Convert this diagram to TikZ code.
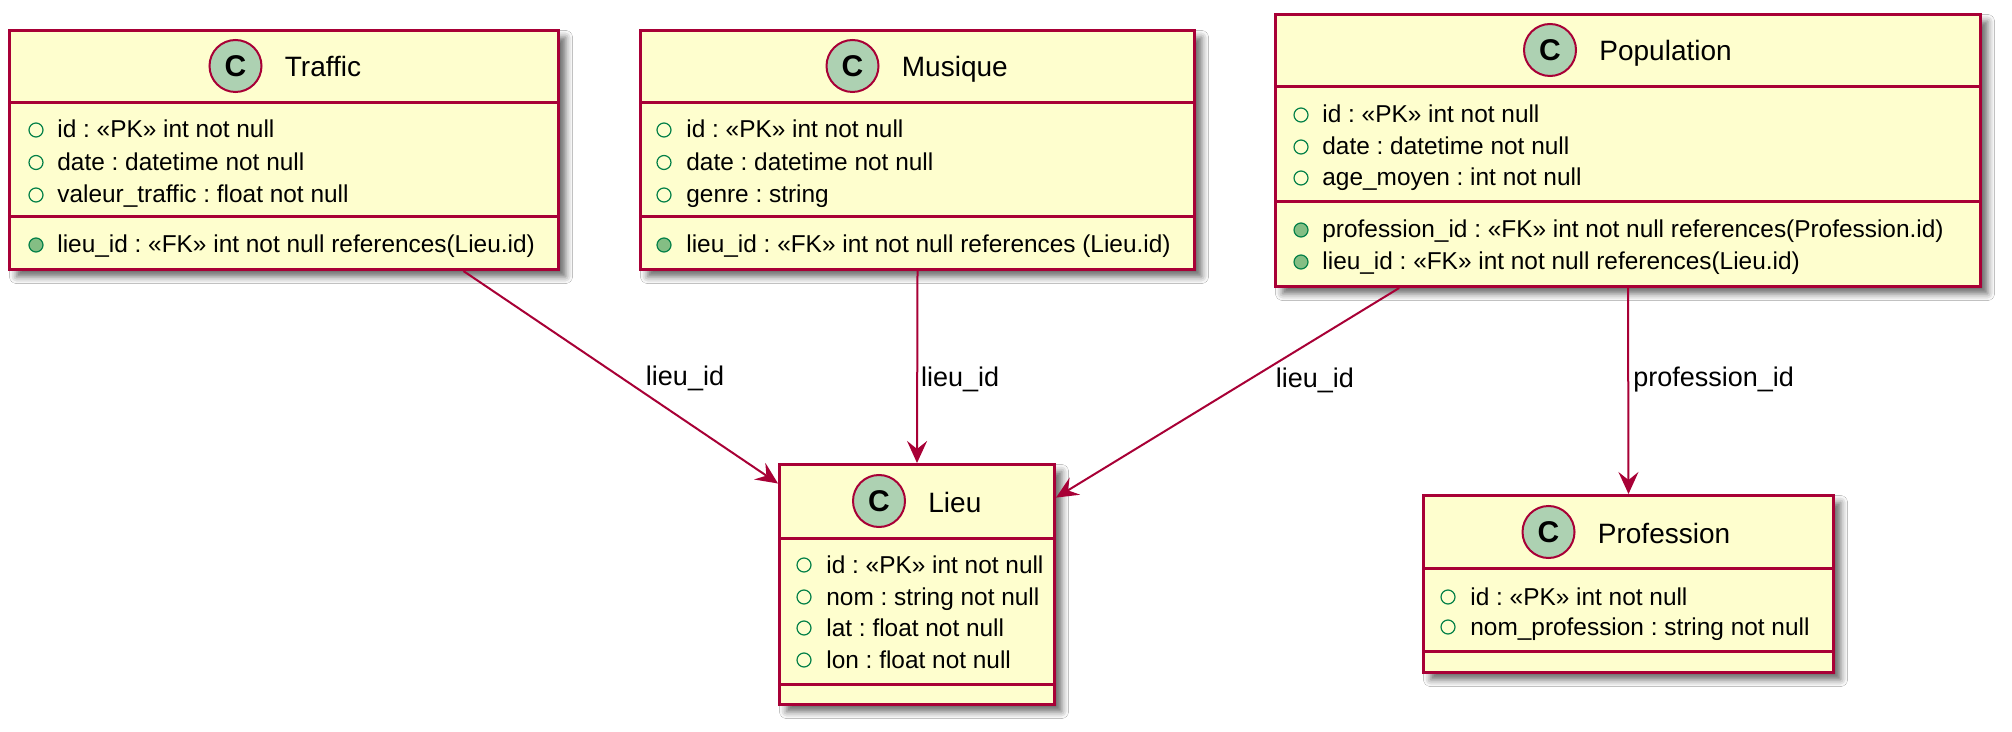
\documentclass[tikz,border=0pt]{standalone}
\usepackage{fontspec}
\setmainfont{Liberation Sans}
\usetikzlibrary{arrows.meta}
\usetikzlibrary{shadows.blur}
\definecolor{umlred}{HTML}{A80036}
\definecolor{umlfill}{HTML}{FEFECE}
\definecolor{umlcirc}{HTML}{ADD1B2}
\definecolor{attrgreen}{HTML}{038048}
\definecolor{attrfill}{HTML}{84BE84}
\frenchspacing

\begin{document}
\begin{tikzpicture}[x=0.5pt,y=-0.5pt]
\par
\tikzstyle{classbox}=[draw=umlred, fill=umlfill, line width=1.5pt, anchor=north west, inner sep=0pt,
  blur shadow={shadow xshift=3.5pt, shadow yshift=-3.5pt, shadow blur radius=3.5pt, shadow opacity=60}]
\tikzstyle{sepline}=[draw=umlred, line width=1.5pt]
\tikzstyle{cmark}=[circle, draw=umlred, fill=umlcirc, line width=1pt, minimum size=26pt, inner sep=0pt,
  font=\fontsize{15}{15}\selectfont\bfseries]
\tikzstyle{ctitle}=[anchor=base west, inner sep=0pt, font=\fontsize{14}{14}\selectfont]
\tikzstyle{pub}=[circle, draw=attrgreen, line width=0.6pt, minimum size=7pt, inner sep=0pt]
\tikzstyle{pubfk}=[pub, fill=attrfill]
\tikzstyle{attr}=[anchor=base west, inner sep=0pt, font=\fontsize{12.2}{12.2}\selectfont]
\tikzstyle{fk}=[draw=umlred, line width=1pt, -{Stealth[length=11pt, width=10pt, inset=4pt]}]
\tikzstyle{lbl}=[anchor=base west, inner sep=0pt, font=\fontsize{13.5}{13.5}\selectfont]
\fill[white] (0,0) rectangle (2012,732);
\useasboundingbox (0,0) rectangle (2012,732);
\par
% Traffic
\node[classbox, minimum width=274.5pt, minimum height=119.5pt] (traffic) at (8,29) {};
\draw[sepline] (traffic.west |- 0,103) -- (traffic.east |- 0,103);
\draw[sepline] (traffic.west |- 0,217) -- (traffic.east |- 0,217);
\node[cmark] (traffic-c) at (235.5,66) {C};
\node[ctitle] (traffic-t) at ([xshift=11pt, yshift=-5.5pt]traffic-c.east) {Traffic};
\node[pub] (traffic-m1) at (36,130) {};   \node[attr] (traffic-a1) at (57,138) {id : «PK» int not null};
\node[pub] (traffic-m2) at (36,162.5) {}; \node[attr] (traffic-a2) at (57,170.5) {date : datetime not null};
\node[pub] (traffic-m3) at (36,195) {};   \node[attr] (traffic-a3) at (57,203) {valeur\_traffic : float not null};
\node[pubfk] (traffic-m4) at (36,245) {}; \node[attr] (traffic-a4) at (57,253) {lieu\_id : «FK» int not null references(Lieu.id)};
\par
% Musique
\node[classbox, minimum width=277pt, minimum height=119.5pt] (musique) at (639,29) {};
\draw[sepline] (musique.west |- 0,103) -- (musique.east |- 0,103);
\draw[sepline] (musique.west |- 0,217) -- (musique.east |- 0,217);
\node[cmark] (musique-c) at (852.5,66) {C};
\node[ctitle] (musique-t) at ([xshift=11pt, yshift=-5.5pt]musique-c.east) {Musique};
\node[pub] (musique-m1) at (664,130) {};   \node[attr] (musique-a1) at (686,138) {id : «PK» int not null};
\node[pub] (musique-m2) at (664,162.5) {}; \node[attr] (musique-a2) at (686,170.5) {date : datetime not null};
\node[pub] (musique-m3) at (664,195) {};   \node[attr] (musique-a3) at (686,203) {genre : string};
\node[pubfk] (musique-m4) at (664,245) {}; \node[attr] (musique-a4) at (686,253) {lieu\_id : «FK» int not null references (Lieu.id)};
\par
% Population
\node[classbox, minimum width=352.5pt, minimum height=136pt] (population) at (1274,13) {};
\draw[sepline] (population.west |- 0,87) -- (population.east |- 0,87);
\draw[sepline] (population.west |- 0,202) -- (population.east |- 0,202);
\node[cmark] (population-c) at (1550,50) {C};
\node[ctitle] (population-t) at ([xshift=11pt, yshift=-5.5pt]population-c.east) {Population};
\node[pub] (population-m1) at (1301,115) {};   \node[attr] (population-a1) at (1322,123) {id : «PK» int not null};
\node[pub] (population-m2) at (1301,147) {};   \node[attr] (population-a2) at (1322,155) {date : datetime not null};
\node[pub] (population-m3) at (1301,178) {};   \node[attr] (population-a3) at (1322,186) {age\_moyen : int not null};
\node[pubfk] (population-m4) at (1301,230) {}; \node[attr] (population-a4) at (1322,238) {profession\_id : «FK» int not null references(Profession.id)};
\node[pubfk] (population-m5) at (1301,262) {}; \node[attr] (population-a5) at (1322,270) {lieu\_id : «FK» int not null references(Lieu.id)};
\par
% Lieu
\node[classbox, minimum width=137.5pt, minimum height=120pt] (lieu) at (778,463) {};
\draw[sepline] (lieu.west |- 0,538) -- (lieu.east |- 0,538);
\draw[sepline] (lieu.west |- 0,684) -- (lieu.east |- 0,684);
\node[cmark] (lieu-c) at (879,501) {C};
\node[ctitle] (lieu-t) at ([xshift=11pt, yshift=-5.5pt]lieu-c.east) {Lieu};
\node[pub] (lieu-m1) at (804,565) {}; \node[attr] (lieu-a1) at (826,573) {id : «PK» int not null};
\node[pub] (lieu-m2) at (804,597) {}; \node[attr] (lieu-a2) at (826,605) {nom : string not null};
\node[pub] (lieu-m3) at (804,628) {}; \node[attr] (lieu-a3) at (826,636) {lat : float not null};
\node[pub] (lieu-m4) at (804,660) {}; \node[attr] (lieu-a4) at (826,668) {lon : float not null};
\par
% Profession
\node[classbox, minimum width=205pt, minimum height=88.5pt] (profession) at (1422,494) {};
\draw[sepline] (profession.west |- 0,568) -- (profession.east |- 0,568);
\draw[sepline] (profession.west |- 0,651) -- (profession.east |- 0,651);
\node[cmark] (profession-c) at (1548.5,532) {C};
\node[ctitle] (profession-t) at ([xshift=11pt, yshift=-5.5pt]profession-c.east) {Profession};
\node[pub] (profession-m1) at (1448,597) {}; \node[attr] (profession-a1) at (1470,605) {id : «PK» int not null};
\node[pub] (profession-m2) at (1448,627) {}; \node[attr] (profession-a2) at (1470,635) {nom\_profession : string not null};
\par
% references
\draw[fk] (traffic.-34.1) -- node[lbl, pos=0.539, xshift=6pt] (l-traffic) {lieu\_id} (lieu.144.5);
\draw[fk] (musique.south) -- node[lbl, pos=0.6, xshift=1.5pt] (l-musique) {lieu\_id} (lieu.north);
\draw[fk] (population.211.4) -- node[lbl, pos=0.476, xshift=19.5pt] (l-population) {lieu\_id} (lieu.32.6);
\draw[fk] (population.south) -- node[lbl, pos=0.478, xshift=2pt] (l-profession) {profession\_id} (profession.north);
\par
\end{tikzpicture}
\end{document}
